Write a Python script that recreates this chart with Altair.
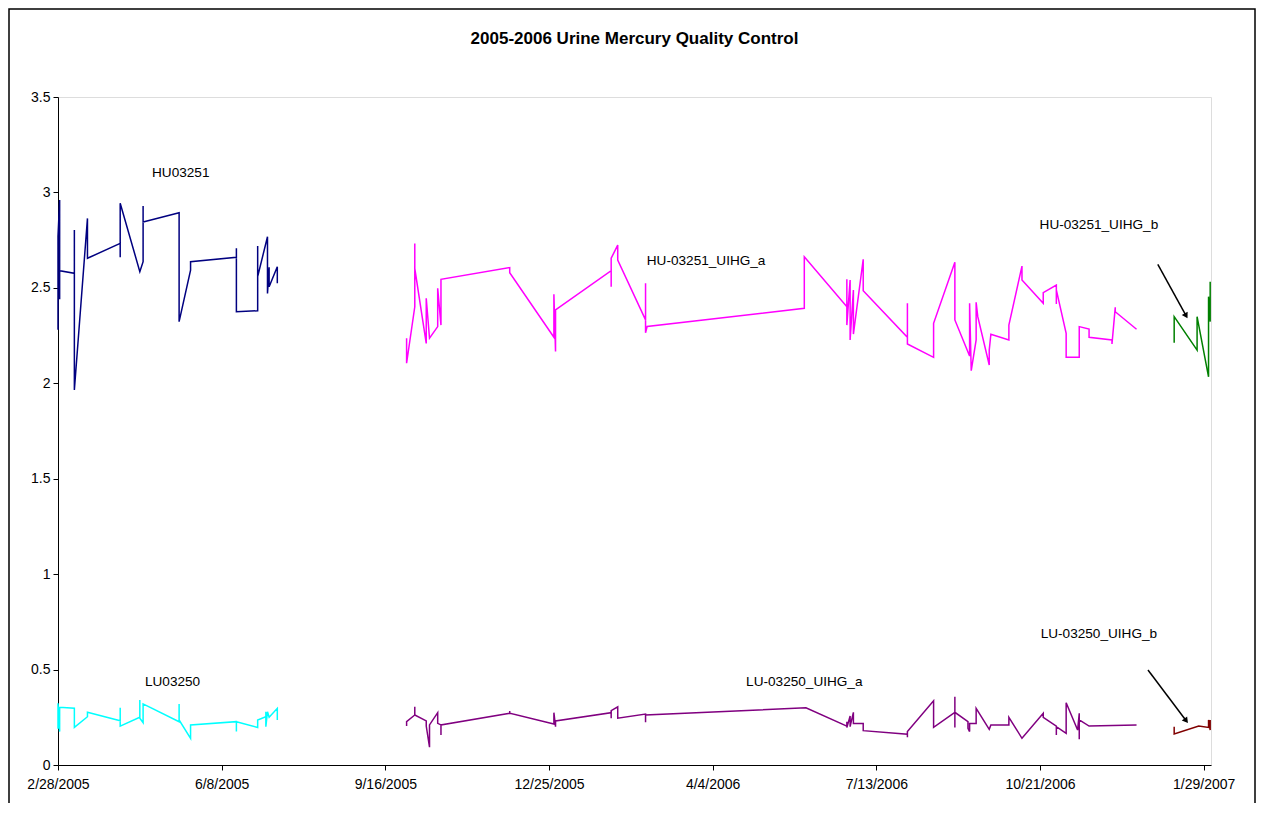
import datetime as dt
import pandas as pd
import altair as alt

START = dt.date(2005, 2, 28)

# ---- series data (days since 2/28/2005, measured value) ----
hu_name = "HU03251"
hu_days = [0, 0, 1, 1, 1, 10, 10, 10, 10, 18, 18, 38, 38, 38, 50, 52, 52, 52, 74, 74,
           81, 81, 109, 109, 109, 122, 122, 122, 128, 128, 129, 129, 134, 134]
hu_vals = [2.28, 2.77, 2.96, 2.44, 2.59, 2.576, 2.803, 2.515, 1.965, 2.864, 2.655, 2.733,
           2.66, 2.943, 2.585, 2.637, 2.929, 2.845, 2.894, 2.323, 2.593, 2.637, 2.66, 2.707,
           2.375, 2.38, 2.719, 2.559, 2.768, 2.471, 2.608, 2.506, 2.611, 2.524]

lu_name = "LU03250"
lu_days = [0, 0, 1, 1, 10, 10, 18, 18, 38, 38, 38, 50, 50, 50, 52, 52, 74, 74, 74, 81, 81,
           109, 109, 109, 122, 122, 127, 127, 127, 128, 129, 134, 134]
lu_vals = [0.19, 0.323, 0.175, 0.302, 0.297, 0.197, 0.253, 0.276, 0.232, 0.30, 0.204,
           0.25, 0.341, 0.245, 0.222, 0.32, 0.227, 0.32, 0.236, 0.14, 0.21, 0.227, 0.175,
           0.227, 0.197, 0.236, 0.253, 0.279, 0.201, 0.279, 0.25, 0.297, 0.236]

hua_name = "HU-03251_UIHG_a"
hua_days = [213, 213, 218, 218, 218, 225, 225, 227, 232, 232, 234, 234, 276, 276, 303, 303,
            304, 304, 338, 338, 338, 342, 342, 359, 359, 359, 360, 456, 456, 482, 482, 482,
            484, 484, 486, 486, 492, 492, 519, 519, 519, 535, 535, 548, 548, 557, 557, 558,
            561, 561, 562, 569, 569, 570, 581, 581, 589, 589, 602, 602, 610, 610, 610, 616,
            616, 624, 624, 624, 630, 630, 644, 644, 646, 646, 659]
hua_vals = [2.236, 2.105, 2.401, 2.733, 2.602, 2.209, 2.445, 2.236, 2.297, 2.498, 2.305,
            2.545, 2.606, 2.579, 2.241, 2.466, 2.166, 2.384, 2.59, 2.506, 2.655, 2.724,
            2.646, 2.332, 2.524, 2.265, 2.298, 2.393, 2.663, 2.401, 2.545, 2.305, 2.541,
            2.227, 2.489, 2.258, 2.65, 2.485, 2.241, 2.419, 2.206, 2.136, 2.314, 2.634,
            2.332, 2.143, 2.419, 2.066, 2.227, 2.424, 2.349, 2.096, 2.174, 2.257, 2.227,
            2.305, 2.614, 2.541, 2.419, 2.475, 2.515, 2.415, 2.489, 2.262, 2.136, 2.136,
            2.236, 2.297, 2.284, 2.241, 2.227, 2.206, 2.398, 2.375, 2.283]

lua_name = "LU-03250_UIHG_a"
lua_days = [213, 213, 218, 218, 218, 225, 225, 227, 227, 232, 232, 234, 234, 234, 276, 276,
            276, 303, 303, 304, 304, 338, 338, 338, 342, 342, 359, 359, 359, 457, 482, 482,
            482, 484, 484, 486, 486, 492, 492, 519, 519, 519, 535, 535, 548, 548, 548, 548,
            556, 556, 557, 557, 561, 561, 569, 570, 581, 581, 589, 602, 602, 610, 610, 610,
            616, 616, 623, 624, 624, 624, 630, 659]
lua_vals = [0.204, 0.227, 0.262, 0.305, 0.262, 0.231, 0.204, 0.093, 0.21, 0.274, 0.218,
            0.21, 0.157, 0.21, 0.271, 0.283, 0.271, 0.215, 0.274, 0.201, 0.231, 0.274,
            0.245, 0.285, 0.305, 0.245, 0.267, 0.224, 0.262, 0.30, 0.204, 0.227, 0.196,
            0.257, 0.201, 0.276, 0.218, 0.218, 0.18, 0.161, 0.145, 0.175, 0.337, 0.197,
            0.276, 0.358, 0.197, 0.276, 0.227, 0.192, 0.175, 0.218, 0.218, 0.297, 0.187,
            0.21, 0.21, 0.25, 0.14, 0.271, 0.25, 0.204, 0.157, 0.201, 0.166, 0.326, 0.183,
            0.271, 0.135, 0.236, 0.204, 0.21]

hub_name = "HU-03251_UIHG_b"
hub_days = [682, 682, 696, 696, 703, 703, 704, 704]
hub_vals = [2.213, 2.349, 2.174, 2.349, 2.034, 2.454, 2.323, 2.532]

lub_name = "LU-03250_UIHG_b"
lub_days = [682, 682, 697, 703, 703, 704, 704]
lub_vals = [0.201, 0.162, 0.204, 0.197, 0.236, 0.183, 0.236]

series_names = [hu_name, lu_name, hua_name, lua_name, hub_name, lub_name]
series_colors = ["#000080", "#00FFFF", "#FF00FF", "#800080", "#008000", "#800000"]

# annotation labels (day, value)
label_texts = ["HU03251", "LU03250", "HU-03251_UIHG_a", "LU-03250_UIHG_a",
               "HU-03251_UIHG_b", "LU-03250_UIHG_b"]
label_days = [75, 70, 396, 456, 636, 636]
label_vals = [3.10, 0.437, 2.642, 0.437, 2.829, 0.686]

# arrows (start day, start value, end day, end value)
arrow_hu = [672, 2.623, 689, 2.358]
arrow_lu = [666, 0.498, 689, 0.236]

x_tick_days = [0, 100, 200, 300, 400, 500, 600, 700]
y_ticks = [0, 0.5, 1, 1.5, 2, 2.5, 3, 3.5]


def to_date(d):
    return (START + dt.timedelta(days=int(d))).isoformat()


rows = []
for name, days, vals in [(hu_name, hu_days, hu_vals), (lu_name, lu_days, lu_vals),
                         (hua_name, hua_days, hua_vals), (lua_name, lua_days, lua_vals),
                         (hub_name, hub_days, hub_vals), (lub_name, lub_days, lub_vals)]:
    for i, (d, v) in enumerate(zip(days, vals)):
        rows.append({"series": name, "seq": i, "date": to_date(d), "value": v})
df = pd.DataFrame(rows)

labels_df = pd.DataFrame({"text": label_texts,
                          "date": [to_date(d) for d in label_days],
                          "value": label_vals})

arrow_rows = []
for aid, a in [("hu", arrow_hu), ("lu", arrow_lu)]:
    arrow_rows.append({"id": aid, "seq": 0, "date": to_date(a[0]), "value": a[1]})
    arrow_rows.append({"id": aid, "seq": 1, "date": to_date(a[2]), "value": a[3]})
arrows_df = pd.DataFrame(arrow_rows)
heads_hu = pd.DataFrame([{"date": to_date(arrow_hu[2]), "value": arrow_hu[3]}])
heads_lu = pd.DataFrame([{"date": to_date(arrow_lu[2]), "value": arrow_lu[3]}])


def dtu(d):
    dd = START + dt.timedelta(days=d)
    return alt.DateTime(year=dd.year, month=dd.month, date=dd.day, utc=True)


FONT = "Liberation Sans"

x_scale = alt.Scale(type="utc", domain=[dtu(0), alt.DateTime(year=2007, month=2, date=2, hours=12, utc=True)])
y_scale = alt.Scale(domain=[0, 3.5], nice=False, zero=True)

x_enc = alt.X("date:T", scale=x_scale, title=None,
              axis=alt.Axis(values=[dtu(d) for d in x_tick_days],
                            labelExpr="utcFormat(datum.value, '%-m/%-d/%Y')",
                            grid=False, domainColor="black", domainWidth=1,
                            tickColor="black", tickSize=5, tickWidth=1,
                            labelFont=FONT, labelFontSize=14, labelColor="black",
                            labelPadding=7, labelOverlap=False, labelFlush=False))
y_enc = alt.Y("value:Q", scale=y_scale, title=None,
              axis=alt.Axis(values=y_ticks, format="~g", grid=False,
                            domainColor="black", domainWidth=1,
                            tickColor="black", tickSize=5, tickWidth=1,
                            labelFont=FONT, labelFontSize=14, labelColor="black",
                            labelPadding=3))

lines = alt.Chart(df).mark_line(strokeWidth=1.5).encode(
    x=x_enc, y=y_enc,
    color=alt.Color("series:N", scale=alt.Scale(domain=series_names, range=series_colors), legend=None),
    order=alt.Order("seq:Q"),
    detail="series:N",
)

texts = alt.Chart(labels_df).mark_text(font=FONT, fontSize=13.6, color="black",
                                       align="center", baseline="middle").encode(
    x="date:T", y="value:Q", text="text:N")

arrow_lines = alt.Chart(arrows_df).mark_line(color="black", strokeWidth=1.5).encode(
    x="date:T", y="value:Q", detail="id:N", order="seq:Q")

head_hu = alt.Chart(heads_hu).mark_point(shape="triangle", filled=True, color="black",
                                         size=45, angle=151, opacity=1).encode(
    x="date:T", y="value:Q")
head_lu = alt.Chart(heads_lu).mark_point(shape="triangle", filled=True, color="black",
                                         size=45, angle=143, opacity=1).encode(
    x="date:T", y="value:Q")

border = alt.Chart(pd.DataFrame({"k": [0]})).mark_rect(
    fill=None, fillOpacity=0, stroke="black", strokeWidth=1.5).encode(
    x=alt.value(-49), x2=alt.value(1197), y=alt.value(-88), y2=alt.value(760))

chart = alt.layer(border, lines, arrow_lines, head_hu, head_lu, texts).properties(
    width=1153, height=668,
    title=alt.TitleParams("2005-2006 Urine Mercury Quality Control", font=FONT,
                          fontSize=17, fontWeight="bold", color="black",
                          anchor="middle", frame="group", offset=-40),
    autosize=alt.AutoSizeParams(type="none"),
    padding={"left": 50, "top": 89, "right": 45, "bottom": 38},
).configure_view(stroke="#a0a0a0", strokeWidth=1).configure(background="white")

chart.save("out.html", embed_options={"renderer": "svg", "actions": False})
